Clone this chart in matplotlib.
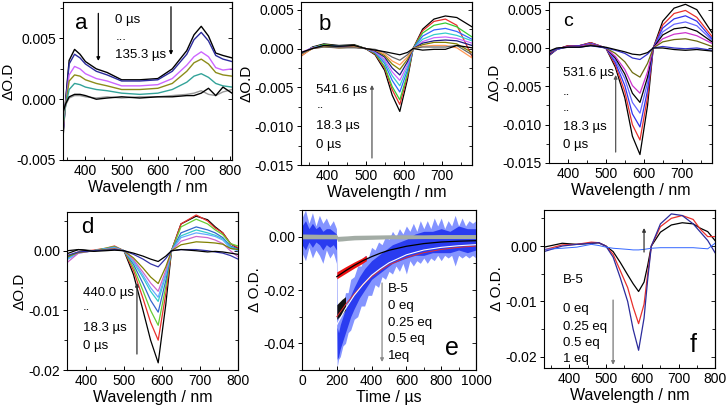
"""
Transient absorption spectra and decay traces, six panels (a-f).
"""

import matplotlib

matplotlib.use("Agg")
import matplotlib.pyplot as plt
from matplotlib.ticker import AutoMinorLocator, FormatStrFormatter, MultipleLocator

plt.rcParams["font.family"] = ["Liberation Sans", "DejaVu Sans"]
plt.rcParams["axes.unicode_minus"] = False

# ---------------- panel a ----------------
wl_a = [338, 345, 355, 370, 385, 400, 430, 460, 500, 550, 600, 640, 680, 700, 720, 740, 760, 780, 805]
a_0us = [-0.0032, -0.0002, 0.0032, 0.0041, 0.0037, 0.0031, 0.0025, 0.0022, 0.0016, 0.0016, 0.0017, 0.0025, 0.0040, 0.0053, 0.0060, 0.0052, 0.0038, 0.0036, 0.0034]
a_1 = [-0.0028, -0.0003, 0.0029, 0.0037, 0.0034, 0.0029, 0.0023, 0.0020, 0.0015, 0.0015, 0.0016, 0.0023, 0.0037, 0.0049, 0.0055, 0.0048, 0.0036, 0.0033, 0.0031]
a_2 = [-0.0026, -0.0005, 0.0020, 0.0027, 0.0025, 0.0021, 0.0017, 0.0015, 0.0011, 0.0011, 0.0012, 0.0017, 0.0028, 0.0035, 0.0039, 0.0035, 0.0026, 0.0024, 0.0025]
a_3 = [-0.0024, -0.0005, 0.0015, 0.0020, 0.0019, 0.0016, 0.0013, 0.0011, 0.0008, 0.0008, 0.0009, 0.0013, 0.0023, 0.0030, 0.0033, 0.0029, 0.0022, 0.0020, 0.0019]
a_4 = [-0.0021, -0.0006, 0.0008, 0.0013, 0.0012, 0.0010, 0.0008, 0.0007, 0.0005, 0.0004, 0.0005, 0.0008, 0.0014, 0.0019, 0.0021, 0.0018, 0.0013, 0.0011, 0.0010]
a_5 = [-0.0017, -0.0005, 0.0001, 0.0003, 0.0003, 0.0002, 0.0001, 0.0002, 0.0001, 0.0002, 0.0002, 0.0003, 0.0004, 0.0005, 0.0007, 0.0004, 0.0003, 0.0006, 0.0008]
a_135us = [-0.0011, -0.0004, 0.0002, 0.0004, 0.0004, 0.0003, 0.0000, 0.0001, 0.0002, 0.0001, 0.0002, 0.0002, 0.0003, 0.0003, 0.0005, 0.0009, 0.0003, 0.0010, 0.0005]
curves_a = [a_0us, a_1, a_2, a_3, a_4, a_5, a_135us]

# ---------------- panel b ----------------
wl_b = [330, 360, 390, 430, 470, 500, 525, 550, 570, 590, 610, 625, 650, 680, 710, 740, 780]
b_0 = [-0.0008, 0.0002, 0.0006, 0.0004, 0.0005, 0.0000, -0.0008, -0.0028, -0.0060, -0.0081, -0.0040, 0.0000, 0.0025, 0.0038, 0.0042, 0.0040, 0.0028]
b_1 = [-0.0010, 0.0001, 0.0005, 0.0003, 0.0004, 0.0000, -0.0007, -0.0025, -0.0053, -0.0072, -0.0036, 0.0000, 0.0023, 0.0035, 0.0038, 0.0030, -0.0010]
b_2 = [-0.0009, 0.0001, 0.0005, 0.0003, 0.0004, 0.0000, -0.0006, -0.0023, -0.0049, -0.0066, -0.0033, 0.0000, 0.0020, 0.0030, 0.0033, 0.0028, 0.0015]
b_3 = [-0.0007, 0.0001, 0.0004, 0.0003, 0.0003, 0.0000, -0.0005, -0.0019, -0.0041, -0.0056, -0.0028, 0.0000, 0.0016, 0.0024, 0.0026, 0.0022, 0.0012]
b_4 = [-0.0006, 0.0001, 0.0004, 0.0002, 0.0003, 0.0000, -0.0004, -0.0016, -0.0035, -0.0048, -0.0024, 0.0000, 0.0012, 0.0018, 0.0020, 0.0017, 0.0010]
b_5 = [-0.0005, 0.0001, 0.0003, 0.0002, 0.0003, 0.0000, -0.0004, -0.0014, -0.0030, -0.0041, -0.0021, 0.0000, 0.0009, 0.0014, 0.0015, 0.0013, 0.0007]
b_6 = [-0.0006, 0.0000, 0.0003, 0.0002, 0.0002, 0.0000, -0.0003, -0.0011, -0.0025, -0.0034, -0.0017, 0.0000, 0.0007, 0.0010, 0.0011, 0.0010, 0.0004]
b_7 = [-0.0008, 0.0000, 0.0003, 0.0001, 0.0002, 0.0000, -0.0002, -0.0009, -0.0020, -0.0027, -0.0014, 0.0000, 0.0005, 0.0008, 0.0008, 0.0006, -0.0005]
b_8 = [-0.0009, 0.0000, 0.0002, 0.0001, 0.0002, 0.0000, -0.0002, -0.0007, -0.0016, -0.0021, -0.0011, 0.0000, 0.0003, 0.0004, 0.0004, 0.0001, -0.0012]
b_9 = [-0.0007, 0.0000, 0.0002, 0.0001, 0.0001, 0.0000, -0.0001, -0.0005, -0.0011, -0.0015, -0.0008, 0.0000, 0.0002, 0.0002, 0.0002, 0.0004, -0.0008]
b_10 = [-0.0005, 0.0000, 0.0004, 0.0003, 0.0004, 0.0000, -0.0002, -0.0004, -0.0006, -0.0008, -0.0005, 0.0000, -0.0002, -0.0001, -0.0001, 0.0004, 0.0001]
curves_b = [b_0, b_1, b_2, b_3, b_4, b_5, b_6, b_7, b_8, b_9, b_10]

# ---------------- panel c ----------------
wl_c = [350, 370, 400, 430, 460, 500, 525, 550, 570, 590, 610, 625, 650, 680, 710, 740, 780]
c_0 = [-0.0010, -0.0002, 0.0003, 0.0003, 0.0007, 0.0000, -0.0025, -0.0065, -0.0115, -0.0139, -0.0075, 0.0000, 0.0035, 0.0052, 0.0057, 0.0050, 0.0020]
c_1 = [-0.0009, -0.0002, 0.0003, 0.0003, 0.0007, 0.0000, -0.0022, -0.0057, -0.0100, -0.0120, -0.0064, 0.0000, 0.0030, 0.0045, 0.0049, 0.0040, 0.0015]
c_2 = [-0.0009, -0.0002, 0.0002, 0.0003, 0.0006, 0.0000, -0.0019, -0.0049, -0.0086, -0.0103, -0.0055, 0.0000, 0.0026, 0.0038, 0.0042, 0.0035, 0.0012]
c_3 = [-0.0008, -0.0002, 0.0002, 0.0002, 0.0006, 0.0000, -0.0016, -0.0040, -0.0071, -0.0085, -0.0045, 0.0000, 0.0021, 0.0031, 0.0034, 0.0029, 0.0010]
c_4 = [-0.0008, -0.0001, 0.0002, 0.0002, 0.0005, 0.0000, -0.0013, -0.0034, -0.0059, -0.0071, -0.0038, 0.0000, 0.0017, 0.0025, 0.0027, 0.0022, 0.0008]
c_5 = [-0.0007, -0.0001, 0.0002, 0.0002, 0.0005, 0.0000, -0.0011, -0.0028, -0.0049, -0.0059, -0.0031, 0.0000, 0.0012, 0.0018, 0.0020, 0.0016, 0.0006]
c_6 = [-0.0006, -0.0001, 0.0001, 0.0001, 0.0004, 0.0000, -0.0007, -0.0018, -0.0032, -0.0038, -0.0020, 0.0000, 0.0008, 0.0011, 0.0012, 0.0009, 0.0002]
c_7 = [-0.0005, -0.0001, 0.0001, 0.0001, 0.0003, 0.0000, -0.0003, -0.0007, -0.0013, -0.0015, -0.0008, 0.0000, 0.0002, 0.0000, -0.0001, 0.0000, -0.0003]
c_8 = [-0.0004, 0.0000, 0.0001, 0.0001, 0.0003, 0.0001, -0.0002, -0.0005, -0.0008, -0.0009, -0.0006, 0.0000, 0.0000, -0.0002, -0.0003, -0.0002, -0.0004]
curves_c = [c_0, c_1, c_2, c_3, c_4, c_5, c_6, c_7, c_8]

# ---------------- panel d ----------------
wl_d = [350, 380, 420, 450, 475, 500, 525, 550, 570, 590, 610, 625, 650, 690, 720, 740, 760, 780, 800]
d_0 = [-0.0005, 0.0002, 0.0000, 0.0003, 0.0006, 0.0000, -0.0040, -0.0100, -0.0150, -0.0188, -0.0090, 0.0000, 0.0045, 0.0058, 0.0052, 0.0040, 0.0030, 0.0012, 0.0004]
d_1 = [-0.0010, -0.0002, 0.0001, 0.0004, 0.0008, 0.0000, -0.0033, -0.0080, -0.0120, -0.0150, -0.0072, 0.0000, 0.0045, 0.0060, 0.0050, 0.0038, 0.0030, 0.0012, 0.0005]
d_2 = [-0.0012, -0.0003, 0.0000, 0.0004, 0.0007, 0.0000, -0.0028, -0.0067, -0.0100, -0.0125, -0.0060, 0.0000, 0.0040, 0.0053, 0.0045, 0.0035, 0.0027, 0.0012, 0.0008]
d_3 = [-0.0013, -0.0003, 0.0000, 0.0003, 0.0006, 0.0000, -0.0023, -0.0055, -0.0083, -0.0103, -0.0050, 0.0000, 0.0030, 0.0040, 0.0035, 0.0030, 0.0022, 0.0008, 0.0003]
d_4 = [-0.0014, -0.0003, 0.0000, 0.0003, 0.0005, 0.0000, -0.0019, -0.0045, -0.0068, -0.0085, -0.0041, 0.0000, 0.0025, 0.0035, 0.0030, 0.0026, 0.0020, 0.0006, 0.0002]
d_5 = [-0.0015, -0.0004, 0.0000, 0.0003, 0.0005, 0.0000, -0.0017, -0.0041, -0.0062, -0.0078, -0.0038, 0.0000, 0.0022, 0.0030, 0.0027, 0.0024, 0.0018, 0.0004, 0.0000]
d_6 = [-0.0020, -0.0004, 0.0000, 0.0002, 0.0004, 0.0000, -0.0015, -0.0036, -0.0054, -0.0068, -0.0033, 0.0000, 0.0016, 0.0024, 0.0022, 0.0018, 0.0012, 0.0000, -0.0010]
d_7 = [-0.0010, -0.0003, 0.0000, 0.0002, 0.0003, 0.0000, -0.0012, -0.0029, -0.0044, -0.0055, -0.0027, 0.0000, 0.0010, 0.0015, 0.0014, 0.0013, 0.0011, 0.0004, 0.0002]
d_8 = [-0.0008, -0.0002, 0.0000, 0.0001, 0.0002, 0.0000, -0.0006, -0.0014, -0.0022, -0.0027, -0.0013, 0.0000, 0.0002, 0.0002, 0.0000, -0.0002, -0.0004, -0.0008, -0.0014]
d_9 = [0.0000, 0.0002, -0.0001, 0.0000, 0.0001, 0.0000, -0.0004, -0.0009, -0.0014, -0.0018, -0.0009, 0.0000, 0.0002, 0.0000, -0.0002, -0.0001, -0.0002, -0.0004, -0.0006]
curves_d = [d_0, d_1, d_2, d_3, d_4, d_5, d_6, d_7, d_8, d_9]

# ---------------- panel e (kinetic traces, drawn as noise envelopes) ----------------
t_light = [0, 20, 40, 60, 80, 100, 120, 140, 160, 180, 198,
           202, 210, 220, 235, 250, 265, 280, 300, 320, 340, 360, 380, 400, 420, 440, 460, 480, 500,
           520, 540, 560, 580, 600, 620, 640, 660, 680, 700, 720, 740, 760, 780, 800, 820, 840, 860,
           880, 900, 920, 940, 960, 980, 1000]
light_hi = [0.007, 0.010, 0.005, 0.009, 0.004, 0.008, 0.005, 0.007, 0.004, 0.006, 0.003,
            -0.028, -0.031, -0.027, -0.026, -0.021, -0.021, -0.016, -0.015, -0.011, -0.011, -0.007, -0.008,
            -0.004, -0.005, -0.002, -0.003, 0.000, -0.001, 0.002, 0.000, 0.003, 0.001, 0.004, 0.002, 0.005,
            0.002, 0.006, 0.003, 0.006, 0.003, 0.007, 0.004, 0.007, 0.003, 0.006, 0.004, 0.008, 0.004,
            0.007, 0.004, 0.006, 0.005, 0.006]
light_lo = [-0.006, -0.009, -0.004, -0.008, -0.005, -0.007, -0.010, -0.005, -0.008, -0.006, -0.010,
            -0.049, -0.046, -0.045, -0.041, -0.040, -0.036, -0.035, -0.031, -0.030, -0.026, -0.026, -0.022,
            -0.022, -0.018, -0.019, -0.015, -0.016, -0.013, -0.014, -0.011, -0.013, -0.010, -0.014, -0.009,
            -0.011, -0.009, -0.010, -0.008, -0.010, -0.008, -0.009, -0.007, -0.009, -0.007, -0.008, -0.007,
            -0.011, -0.007, -0.008, -0.007, -0.008, -0.007, -0.008]
t_dark = [0, 20, 40, 60, 80, 100, 120, 140, 160, 180, 198, 202, 210, 220, 240, 260, 280, 300, 330, 360,
          400, 440, 480, 520, 560, 600, 650, 700, 750, 800, 850, 900, 950, 1000]
dark_hi = [0.004, 0.006, 0.003, 0.005, 0.003, 0.004, 0.002, 0.003, 0.003, 0.002, 0.001, -0.034, -0.036,
           -0.033, -0.029, -0.025, -0.022, -0.019, -0.015, -0.012, -0.009, -0.007, -0.005, -0.003, -0.002,
           -0.001, 0.001, 0.002, 0.002, 0.003, 0.002, 0.004, 0.003, 0.003]
dark_lo = [-0.003, -0.005, -0.002, -0.004, -0.002, -0.003, -0.005, -0.003, -0.004, -0.003, -0.005, -0.046,
           -0.045, -0.042, -0.038, -0.034, -0.030, -0.027, -0.023, -0.020, -0.016, -0.014, -0.012, -0.010,
           -0.009, -0.008, -0.007, -0.007, -0.006, -0.006, -0.006, -0.005, -0.006, -0.005]
t_gray = [0, 100, 198, 205, 230, 260, 300, 400, 500, 600, 700, 800, 900, 1000]
gray_hi = [0.0010, 0.0009, 0.0009, 0.0001, 0.0002, 0.0003, 0.0005, 0.0006, 0.0007, 0.0007, 0.0007, 0.0008, 0.0008, 0.0008]
gray_lo = [-0.0008, -0.0008, -0.0008, -0.0017, -0.0016, -0.0014, -0.0012, -0.0010, -0.0008, -0.0008, -0.0007, -0.0007, -0.0007, -0.0007]
t_red = [200, 250, 300, 340, 370]
red_hi = [-0.0132, -0.0113, -0.0095, -0.0082, -0.0070]
red_lo = [-0.0158, -0.0138, -0.0118, -0.0103, -0.0090]
t_blk = [200, 215, 230, 250]
blk_hi = [-0.0255, -0.0245, -0.0235, -0.0225]
blk_lo = [-0.0310, -0.0300, -0.0290, -0.0275]
t_fit = [200, 250, 300, 350, 400, 450, 500, 600, 700, 800, 900, 1000]
fit_black = [-0.0150, -0.0128, -0.0108, -0.0090, -0.0075, -0.0062, -0.0051, -0.0036, -0.0026, -0.0020, -0.0017, -0.0015]
fit_white = [-0.0330, -0.0270, -0.0220, -0.0180, -0.0145, -0.0120, -0.0098, -0.0068, -0.0050, -0.0040, -0.0034, -0.0030]
fit_red = [-0.0300, -0.0255, -0.0215, -0.0180, -0.0150, -0.0126, -0.0106, -0.0078, -0.0060, -0.0048, -0.0040, -0.0035]

# ---------------- panel f ----------------
wl_f = [330, 380, 420, 460, 480, 500, 520, 540, 560, 575, 590, 605, 615, 625, 650, 680, 710, 740, 760, 780, 800]
f_b5 = [-0.0002, 0.0005, 0.0003, 0.0005, 0.0006, 0.0000, -0.0010, -0.0030, -0.0052, -0.0068, -0.0082, -0.0065, -0.0035, 0.0000, 0.0025, 0.0038, 0.0042, 0.0040, 0.0032, 0.0026, 0.0010]
f_025 = [-0.0007, 0.0002, 0.0003, 0.0007, 0.0006, 0.0000, -0.0015, -0.0045, -0.0075, -0.0110, -0.0140, -0.0105, -0.0050, 0.0000, 0.0035, 0.0050, 0.0055, 0.0048, 0.0030, 0.0017, 0.0017]
f_05 = [-0.0010, 0.0000, 0.0003, 0.0005, 0.0006, 0.0000, -0.0020, -0.0058, -0.0100, -0.0150, -0.0188, -0.0130, -0.0060, 0.0000, 0.0040, 0.0058, 0.0055, 0.0040, 0.0025, 0.0010, -0.0012]
f_1 = [-0.0006, -0.0004, -0.0002, 0.0003, 0.0001, -0.0002, -0.0004, -0.0005, -0.0006, -0.0007, -0.0007, -0.0006, -0.0005, -0.0004, -0.0003, -0.0003, -0.0003, -0.0003, -0.0004, -0.0005, 0.0005]

colors_a = ["black", "#2b2b9c", "#cc66ff", "#8c8c1a", "#33a399", "#999999", "black"]
colors_b = ["black", "#e8302c", "#33cc33", "#3366ff", "#33cccc", "#cc66ff", "#1a1a80",
            "#808000", "#ff9955", "#666666", "black"]
colors_c = ["black", "#e8302c", "#3333ee", "#6666ff", "black", "#cc33cc", "#6b6b10", "#3333cc", "black"]
colors_d = ["black", "#e8302c", "#66cc33", "#3366cc", "#33cccc", "#66aaff", "#cc66cc",
            "#808000", "#3333aa", "black"]
colors_f = ["black", "#e8302c", "#2b2b9c", "#3366ff"]

W, H = 727.0, 407.0


def box(left, top, right, bottom):
    # pixel box -> figure fraction
    return [left / W, 1 - bottom / H, (right - left) / W, (bottom - top) / H]


def style_axis(ax, xlim, ylim, ymajor, yfmt, xlabel, ylabel, xmajor=100):
    ax.set_xlim(*xlim)
    ax.set_ylim(*ylim)
    ax.xaxis.set_major_locator(MultipleLocator(xmajor))
    ax.yaxis.set_major_locator(MultipleLocator(ymajor))
    ax.yaxis.set_major_formatter(FormatStrFormatter(yfmt))
    ax.xaxis.set_minor_locator(AutoMinorLocator(2))
    ax.yaxis.set_minor_locator(AutoMinorLocator(2))
    ax.tick_params(axis="x", which="both", direction="in", top=False, labelsize=10, pad=3)
    ax.tick_params(axis="y", which="both", direction="out", labelsize=10, pad=2)
    ax.tick_params(which="major", length=3, width=0.7)
    ax.tick_params(which="minor", length=2, width=0.6)
    for sp in ax.spines.values():
        sp.set_linewidth(0.8)
    ax.set_xlabel(xlabel, fontsize=11.5, labelpad=1)
    ax.set_ylabel(ylabel, fontsize=11, labelpad=1)

    # inward ticks on the right-hand frame
    right = ax.secondary_yaxis("right")
    right.yaxis.set_major_locator(MultipleLocator(ymajor))
    right.yaxis.set_minor_locator(AutoMinorLocator(2))
    right.tick_params(which="both", direction="in", labelright=False, width=0.6)
    right.tick_params(which="major", length=3)
    right.tick_params(which="minor", length=2)
    right.spines["right"].set_linewidth(0.8)


def arrow(ax, x, y0, y1, color="#555555"):
    ax.annotate("", xy=(x, y1), xytext=(x, y0), xycoords="axes fraction",
                arrowprops=dict(arrowstyle="-|>", lw=0.9, color=color, mutation_scale=5,
                                shrinkA=0, shrinkB=0))


def labels(ax, x, ys, texts, size=9.5):
    for y, s in zip(ys, texts):
        ax.text(x, y, s, transform=ax.transAxes, fontsize=size, ha="left", va="center")


def _main():
    fig = plt.figure(figsize=(7.27, 4.07), dpi=100)
    fig.patch.set_facecolor("white")

    wl_label = "Wavelength / nm"

    # a
    ax = fig.add_axes(box(63, 2, 232, 160))
    for y, c in zip(curves_a, colors_a):
        ax.plot(wl_a, y, color=c, lw=1.0)
    style_axis(ax, (338, 805), (-0.005, 0.008), 0.005, "%.3f", wl_label, "\u0394O.D")
    ax.text(0.107, 0.867, "a", transform=ax.transAxes, fontsize=16, ha="center", va="center")
    labels(ax, 0.31, [0.883, 0.78, 0.665], ["0 \u00b5s", "...", "135.3 \u00b5s"])
    arrow(ax, 0.209, 0.928, 0.627, "black")
    arrow(ax, 0.639, 0.970, 0.665, "black")

    # b
    ax = fig.add_axes(box(301, 2, 472, 165))
    for y, c in zip(curves_b, colors_b):
        ax.plot(wl_b, y, color=c, lw=0.9)
    style_axis(ax, (330, 780), (-0.015, 0.006), 0.005, "%.3f", wl_label, "\u0394O.D")
    ax.text(0.14, 0.859, "b", transform=ax.transAxes, fontsize=16, ha="center", va="center")
    labels(ax, 0.09, [0.460, 0.37, 0.239, 0.123], ["541.6 \u00b5s", "..", "18.3 \u00b5s", "0 \u00b5s"])
    arrow(ax, 0.415, 0.043, 0.491)

    # c
    ax = fig.add_axes(box(549, 2, 712, 163))
    for y, c in zip(curves_c, colors_c):
        ax.plot(wl_c, y, color=c, lw=0.9)
    style_axis(ax, (350, 780), (-0.015, 0.006), 0.005, "%.3f", wl_label, "\u0394O.D")
    ax.text(0.117, 0.876, "c", transform=ax.transAxes, fontsize=14, ha="center", va="center")
    labels(ax, 0.084, [0.561, 0.44, 0.339, 0.224, 0.112],
           ["531.6 \u00b5s", "..", "..", "18.3 \u00b5s", "0 \u00b5s"])
    arrow(ax, 0.409, 0.068, 0.547)

    # d
    ax = fig.add_axes(box(67, 212, 238, 370))
    for y, c in zip(curves_d, colors_d):
        ax.plot(wl_d, y, color=c, lw=0.9)
    style_axis(ax, (350, 800), (-0.02, 0.0065), 0.01, "%.2f", wl_label, "\u0394O.D")
    ax.text(0.117, 0.905, "d", transform=ax.transAxes, fontsize=16, ha="center", va="center")
    labels(ax, 0.094, [0.487, 0.40, 0.266, 0.152], ["440.0 \u00b5s", "..", "18.3 \u00b5s", "0 \u00b5s"])
    arrow(ax, 0.409, 0.101, 0.551, "#333333")

    # e
    ax = fig.add_axes(box(302, 210, 476, 370))
    ax.fill_between(t_light, light_lo, light_hi, color="#8494ff", lw=0)
    ax.fill_between(t_dark, dark_lo, dark_hi, color="#2a3cf0", lw=0)
    ax.fill_between(t_gray, gray_lo, gray_hi, color="#a3aca5", lw=0)
    ax.fill_between(t_red, red_lo, red_hi, color="#ee1111", lw=0)
    ax.fill_between(t_blk, blk_lo, blk_hi, color="#111111", lw=0)
    ax.plot(t_fit, fit_red, color="#e03030", lw=0.7)
    ax.plot(t_fit, fit_white, color="white", lw=0.8)
    ax.plot(t_fit, fit_black, color="black", lw=0.9)
    style_axis(ax, (0, 1000), (-0.05, 0.01), 0.02, "%.2f", "Time / \u00b5s", "\u0394 O.D.", xmajor=200)
    labels(ax, 0.494, [0.506, 0.40, 0.294, 0.194, 0.0875], ["B-5", "0 eq", "0.25 eq", "0.5 eq", "1eq"])
    arrow(ax, 0.46, 0.544, 0.05, "#888888")
    ax.text(0.862, 0.14, "e", transform=ax.transAxes, fontsize=18, ha="center", va="center")

    # f
    ax = fig.add_axes(box(544, 210, 715, 368))
    for y, c in zip([f_b5, f_025, f_05, f_1], colors_f):
        ax.plot(wl_f, y, color=c, lw=0.9 if c != "#3366ff" else 0.7)
    style_axis(ax, (330, 800), (-0.022, 0.0065), 0.01, "%.2f", wl_label, "\u0394 O.D.")
    labels(ax, 0.111, [0.557, 0.373, 0.259, 0.158, 0.057], ["B-5", "0 eq", "0.25 eq", "0.5 eq", "1 eq"])
    arrow(ax, 0.404, 0.43, 0.02, "#777777")
    arrow(ax, 0.585, 0.734, 0.886, "#333333")
    ax.text(0.871, 0.146, "f", transform=ax.transAxes, fontsize=18, ha="center", va="center")

    fig.savefig("out.png", dpi=100)


if __name__ == "__main__":
    _main()
